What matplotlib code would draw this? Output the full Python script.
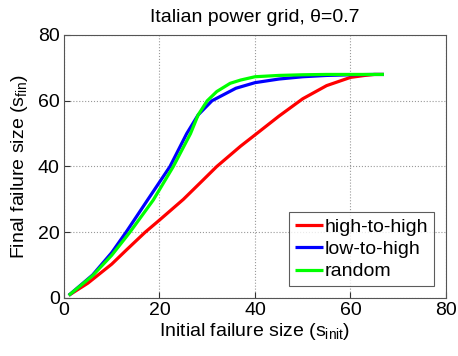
import matplotlib
matplotlib.use("Agg")
import matplotlib.pyplot as plt
import numpy as np

plt.rcParams['font.family'] = ['Liberation Sans', 'DejaVu Sans']
plt.rcParams['mathtext.default'] = 'regular'

# Final failure size vs. initial failure size for three attack strategies
x_high = [1, 5, 10, 13, 17, 20, 25, 29, 32, 37, 40, 45, 50, 55, 60, 63, 65, 67]
y_high = [0.8, 4.5, 10.3, 14.5, 20, 23.7, 30, 35.7, 40, 46.2, 49.6, 55.3, 60.6, 64.6, 67.1, 67.7, 68, 68]

x_low = [1, 6, 10, 13, 17.5, 22.2, 25.7, 28.1, 31, 36, 40, 45, 50, 55, 60, 65, 67]
y_low = [0.8, 7, 13.8, 20, 29.8, 40, 50, 55.7, 60, 63.8, 65.5, 66.6, 67.3, 67.7, 67.9, 68, 68]

x_rand = [1, 6, 10, 13.8, 18.7, 22.9, 26.5, 28.1, 30, 32, 34.8, 37, 40, 45, 50, 55, 60, 65, 67]
y_rand = [0.8, 6.8, 13, 20, 29.8, 40, 50, 55.7, 60, 62.8, 65.3, 66.3, 67.3, 67.7, 67.9, 68, 68, 68, 68]

labels = ['high-to-high', 'low-to-high', 'random']
colors = ['#ff0000', '#0000ff', '#00ff00']
ticks = [0, 20, 40, 60, 80]

fs = 14
fig = plt.figure(figsize=(4.58, 3.56), dpi=100)
ax = fig.add_axes([0.1397, 0.163, 0.8341, 0.7387])

for xs, ys, lab, c in zip([x_high, x_low, x_rand], [y_high, y_low, y_rand], labels, colors):
    ax.plot(xs, ys, color=c, lw=2.3, label=lab, solid_capstyle='butt',
            solid_joinstyle='round')

ax.set_xlim(0, 80)
ax.set_ylim(0, 80)
ax.set_xticks(ticks)
ax.set_yticks(ticks)
ax.tick_params(direction='in', labelsize=fs, length=4, color='#333333')
ax.tick_params(axis='x', pad=3)
ax.tick_params(axis='y', pad=3)
ax.grid(True, linestyle=':', color='#999999', linewidth=0.8)
for s in ax.spines.values():
    s.set_color('#555555')
    s.set_linewidth(0.8)

ax.set_title('Italian power grid, θ=0.7', fontsize=fs, pad=9)
ax.set_xlabel('Initial failure size (s$_{init}$)', fontsize=fs, labelpad=1)
ax.set_ylabel('Final failure size (s$_{fin}$)', fontsize=fs, labelpad=6)

leg = ax.legend(loc='lower right', fontsize=fs, frameon=True, fancybox=False,
                edgecolor='#333333', handlelength=1.45, handletextpad=0.1,
                borderpad=0.3, labelspacing=0.25, borderaxespad=0.6)
leg.get_frame().set_linewidth(0.8)

fig.savefig('out.png', dpi=100)
